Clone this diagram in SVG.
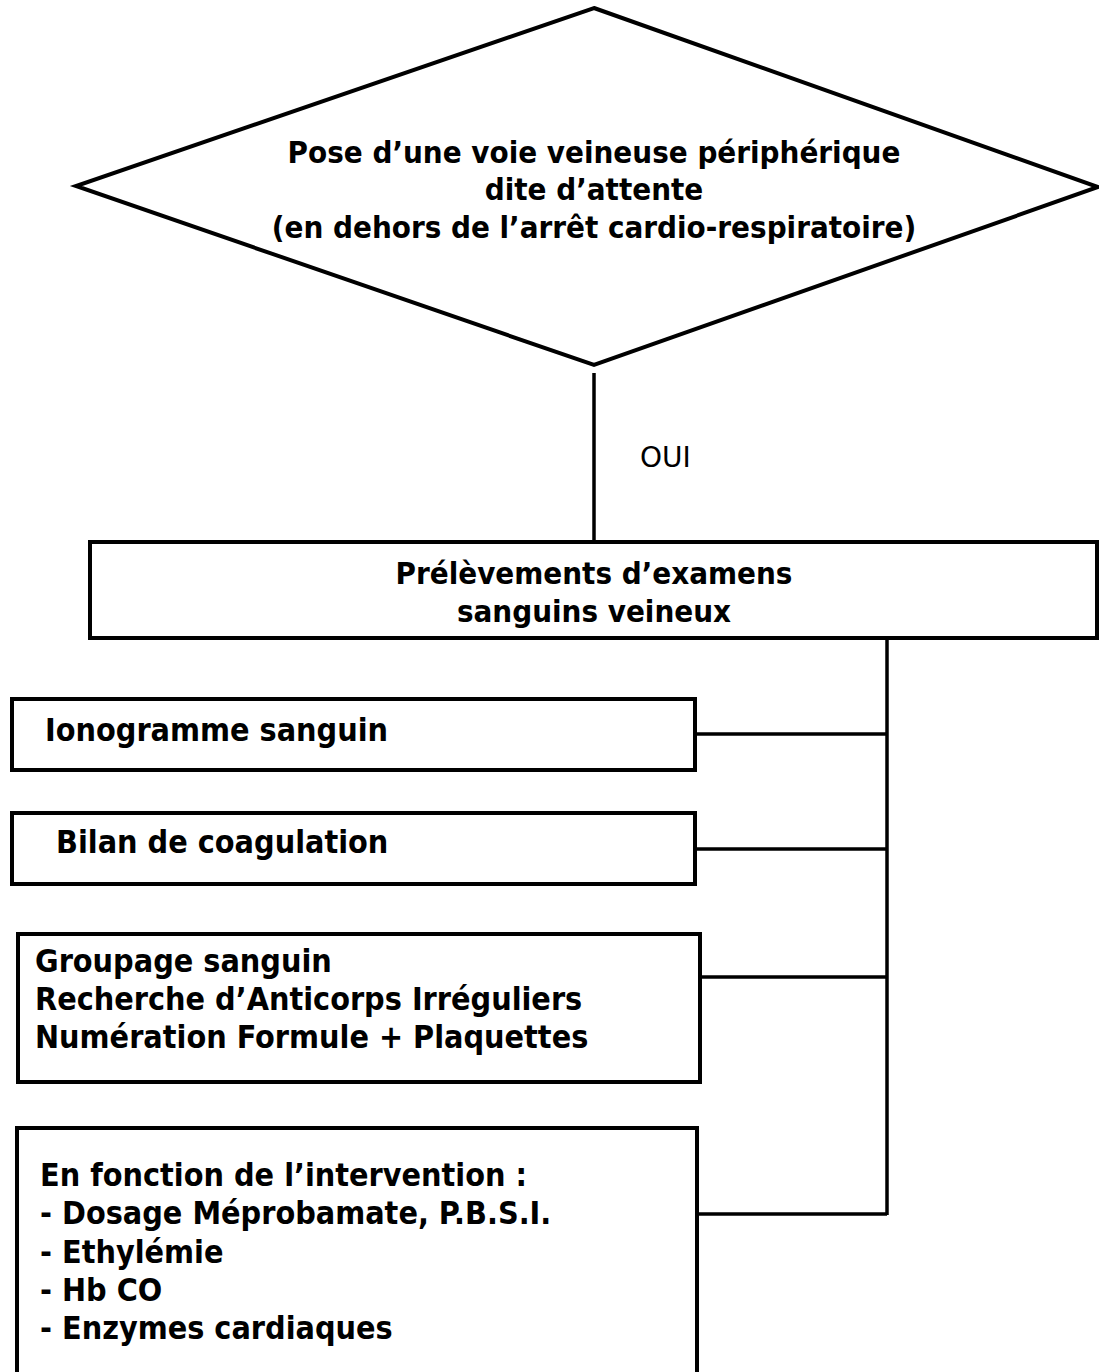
<svg xmlns="http://www.w3.org/2000/svg" width="1099" height="1372" viewBox="0 0 1099 1372">
<style>
.shape{fill:#fff;stroke:#000;stroke-width:4}
.conn{fill:none;stroke:#000;stroke-width:3.5}
.t{font-family:"DejaVu Sans Condensed","DejaVu Sans",sans-serif;font-stretch:condensed;font-weight:bold;font-size:31px;fill:#000}
.b{font-size:32px}
.c{text-anchor:middle}
.lbl{font-family:"DejaVu Sans","Liberation Sans",sans-serif;font-size:28px;fill:#000}
</style>
<rect width="1099" height="1372" fill="#fff"/>
<g id="connectors">
<line class="conn" x1="594" y1="373" x2="594" y2="542"/>
<line class="conn" x1="887" y1="640" x2="887" y2="1215"/>
<line class="conn" x1="695" y1="734" x2="887" y2="734"/>
<line class="conn" x1="695" y1="849" x2="887" y2="849"/>
<line class="conn" x1="700" y1="977" x2="887" y2="977"/>
<line class="conn" x1="697" y1="1214" x2="887" y2="1214"/>
<text class="lbl" x="640" y="467">OUI</text>
</g>
<g id="decision">
<polygon class="shape" points="594,8 1098,187 594,365 76,186"/>
<text class="t c" x="594" y="163">Pose d’une voie veineuse périphérique</text>
<text class="t c" x="594" y="200">dite d’attente</text>
<text class="t c" x="594" y="238">(en dehors de l’arrêt cardio-respiratoire)</text>
</g>
<g id="prelevements">
<rect class="shape" x="90" y="542" width="1007" height="96"/>
<text class="t c" x="594" y="584">Prélèvements d’examens</text>
<text class="t c" x="594" y="622">sanguins veineux</text>
</g>
<g id="ionogramme">
<rect class="shape" x="12" y="699" width="683" height="71"/>
<text class="t b" x="45" y="741">Ionogramme sanguin</text>
</g>
<g id="coagulation">
<rect class="shape" x="12" y="813" width="683" height="71"/>
<text class="t b" x="56" y="853">Bilan de coagulation</text>
</g>
<g id="groupage">
<rect class="shape" x="18" y="934" width="682" height="148"/>
<text class="t b" x="35" y="972">Groupage sanguin</text>
<text class="t b" x="35" y="1010">Recherche d’Anticorps Irréguliers</text>
<text class="t b" x="35" y="1048">Numération Formule + Plaquettes</text>
</g>
<g id="intervention">
<rect class="shape" x="17" y="1128" width="680" height="260"/>
<text class="t b" x="40" y="1186">En fonction de l’intervention :</text>
<text class="t b" x="40" y="1224">- Dosage Méprobamate, P.B.S.I.</text>
<text class="t b" x="40" y="1263">- Ethylémie</text>
<text class="t b" x="40" y="1301">- Hb CO</text>
<text class="t b" x="40" y="1339">- Enzymes cardiaques</text>
</g>
</svg>
